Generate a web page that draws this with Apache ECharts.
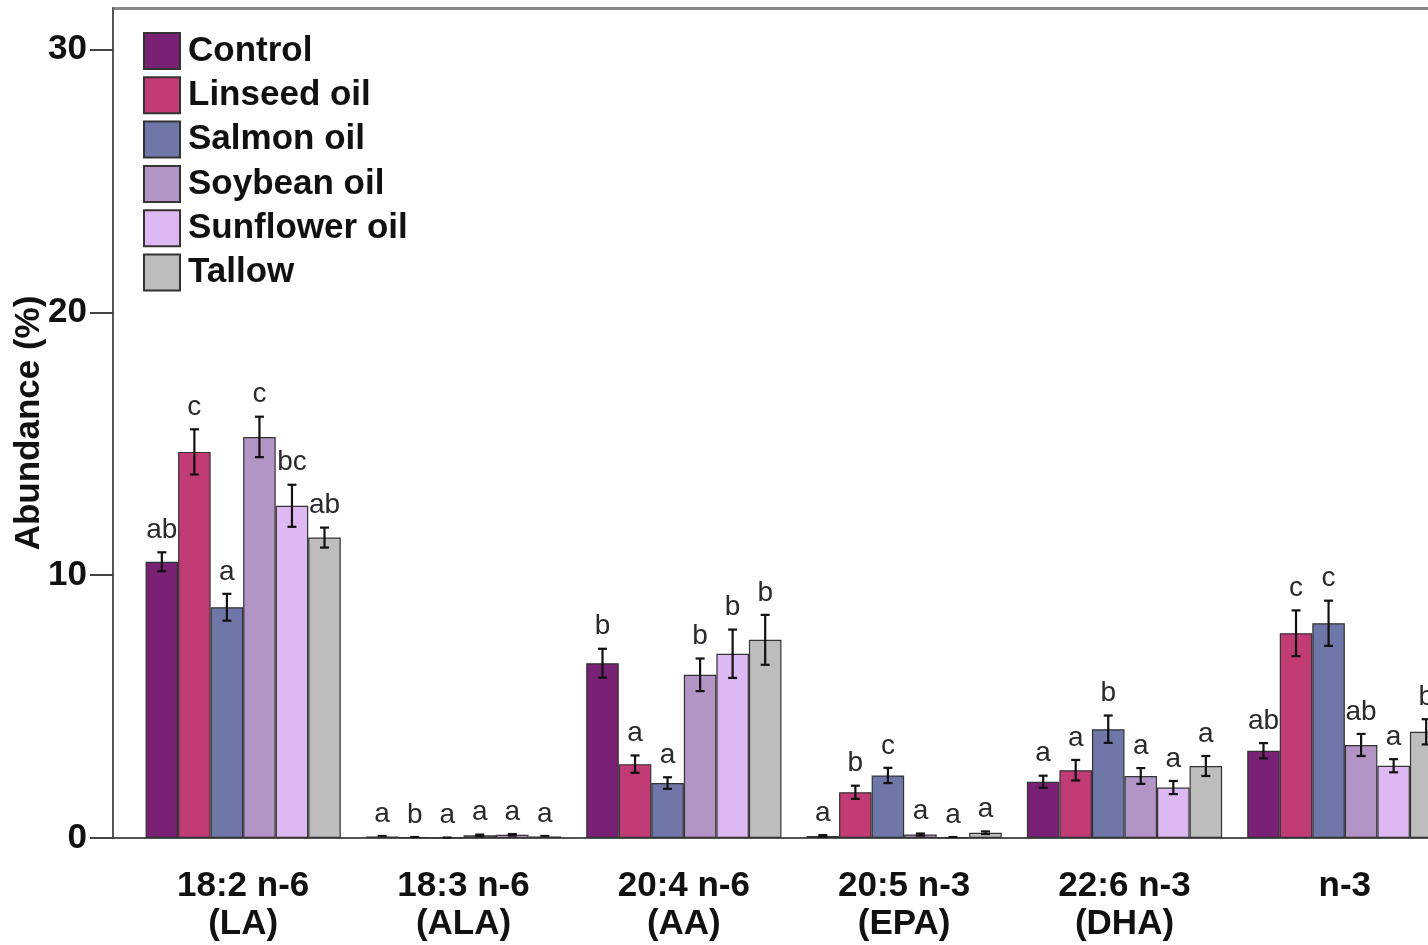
<!DOCTYPE html>
<html>
<head>
<meta charset="utf-8">
<title>Fatty acid abundance</title>
<script src="https://cdn.jsdelivr.net/npm/echarts@6/dist/echarts.min.js"></script>
<style>
  html, body { margin: 0; padding: 0; background: #ffffff; }
  #chart { width: 1428px; height: 945px; }
</style>
</head>
<body>
<div id="chart"></div>
<script>
// Fatty acid groups along the x axis
const categories = ['18:2 n-6\n(LA)', '18:3 n-6\n(ALA)', '20:4 n-6\n(AA)', '20:5 n-3\n(EPA)', '22:6 n-3\n(DHA)', 'n-3'];

// Diet treatments (one bar series each)
const treatments = ['Control', 'Linseed oil', 'Salmon oil', 'Soybean oil', 'Sunflower oil', 'Tallow'];

// Mean abundance (%) per treatment, in category order
const control   = [10.51, 0.06, 6.65, 0.08, 2.14, 3.32];
const linseed   = [14.69, 0.03, 2.81, 1.74, 2.58, 7.79];
const salmon    = [8.78, 0.01, 2.09, 2.38, 4.14, 8.17];
const soybean   = [15.26, 0.10, 6.21, 0.13, 2.36, 3.54];
const sunflower = [12.64, 0.12, 7.01, 0.03, 1.92, 2.75];
const tallow    = [11.43, 0.06, 7.54, 0.20, 2.74, 4.04];

// Standard error per treatment, in category order
const controlErr   = [0.36, 0.02, 0.55, 0.03, 0.23, 0.29];
const linseedErr   = [0.86, 0.01, 0.33, 0.25, 0.39, 0.87];
const salmonErr    = [0.51, 0.01, 0.22, 0.29, 0.52, 0.86];
const soybeanErr   = [0.77, 0.03, 0.62, 0.04, 0.30, 0.42];
const sunflowerErr = [0.80, 0.03, 0.92, 0.01, 0.25, 0.25];
const tallowErr    = [0.38, 0.02, 0.95, 0.05, 0.38, 0.48];

// Significance letters per treatment, in category order
const controlSig   = ['ab', 'a', 'b', 'a', 'a', 'ab'];
const linseedSig   = ['c', 'b', 'a', 'b', 'a', 'c'];
const salmonSig    = ['a', 'a', 'a', 'c', 'b', 'c'];
const soybeanSig   = ['c', 'a', 'b', 'a', 'a', 'ab'];
const sunflowerSig = ['bc', 'a', 'b', 'a', 'a', 'a'];
const tallowSig    = ['ab', 'a', 'b', 'a', 'a', 'b'];

// Y axis tick values
const yTicks = [0, 10, 20, 30];

const means = [control, linseed, salmon, soybean, sunflower, tallow];
const errs = [controlErr, linseedErr, salmonErr, soybeanErr, sunflowerErr, tallowErr];
const sigs = [controlSig, linseedSig, salmonSig, soybeanSig, sunflowerSig, tallowSig];
const colors = ['#792175', '#C13B74', '#6F76A8', '#B394C6', '#DDB8F2', '#BDBDBD'];

const FONT = '"Liberation Sans", Arial, sans-serif';
const GAP_FRAC = 0.114;          // share of each category band left empty
const GRID_LEFT = 133, GRID_TOP = 8, GRID_H = 830, GRID_W = 1322;
const AXIS_X = 113;              // y axis line position (offset from grid)

const chart = echarts.init(document.getElementById('chart'), null, { renderer: 'canvas' });

// Error bar + letter items: [categoryIndex, seriesIndex, mean, err, letter]
const errItems = [];
means.forEach((arr, s) => {
  arr.forEach((v, c) => errItems.push([c, s, v, errs[s][c], sigs[s][c]]));
});

function renderErr(params, api) {
  const c = api.value(0), s = api.value(1), v = api.value(2), e = api.value(3);
  const letter = errItems[params.dataIndex][4];
  const center = api.coord([c, 0]);
  const band = api.size([1, 0])[0];
  const bw = band * (1 - GAP_FRAC) / means.length;
  const x = center[0] + (s - (means.length - 1) / 2) * bw;
  const yTop = api.coord([c, v + e])[1];
  const yBot = api.coord([c, Math.max(v - e, 0)])[1];
  const cap = 4.5;
  const st = { stroke: '#111', lineWidth: 2.2 };
  const children = [];
  if (yBot - yTop > 1.5) {
    children.push(
      { type: 'line', shape: { x1: x, y1: yTop, x2: x, y2: yBot }, style: st },
      { type: 'line', shape: { x1: x - cap, y1: yTop, x2: x + cap, y2: yTop }, style: st },
      { type: 'line', shape: { x1: x - cap, y1: yBot, x2: x + cap, y2: yBot }, style: st }
    );
  } else {
    children.push({ type: 'line', shape: { x1: x - cap, y1: yTop, x2: x + cap, y2: yTop }, style: { stroke: '#111', lineWidth: 2 } });
  }
  children.push({
    type: 'text',
    style: {
      text: letter, x: x, y: yTop - 8,
      align: 'center', verticalAlign: 'bottom',
      font: '28px ' + FONT, fill: '#2a2a2a'
    }
  });
  return { type: 'group', children: children };
}

const barSeries = treatments.map((name, s) => ({
  name: name,
  type: 'bar',
  data: means[s],
  barGap: '0%',
  barCategoryGap: (GAP_FRAC * 100) + '%',
  itemStyle: { color: colors[s], borderColor: '#333', borderWidth: 1.2 },
  emphasis: { disabled: true },
  z: 2
}));

const option = {
  backgroundColor: '#ffffff',
  animation: false,
  textStyle: { fontFamily: FONT },
  grid: {
    left: GRID_LEFT, top: GRID_TOP, width: GRID_W, height: GRID_H,
    containLabel: false, outerBoundsMode: 'none'
  },
  legend: {
    orient: 'vertical',
    left: 143,
    top: 32,
    padding: 0,
    itemWidth: 36,
    itemHeight: 36,
    itemGap: 6.3,
    icon: 'rect',
    data: treatments,
    selectedMode: false,
    textStyle: {
      fontFamily: FONT, fontSize: 35, fontWeight: 'bold', color: '#111',
      lineHeight: 36, padding: [0, 0, 0, 3]
    }
  },
  xAxis: {
    type: 'category',
    data: categories,
    axisLine: { lineStyle: { color: '#555', width: 2 } },
    axisTick: { alignWithLabel: true, length: 21, lineStyle: { color: '#444', width: 2 } },
    axisLabel: {
      fontFamily: FONT, fontSize: 35, fontWeight: 'bold', color: '#111',
      lineHeight: 38, margin: 29, interval: 0
    },
    splitLine: { show: false }
  },
  yAxis: {
    type: 'value',
    min: 0,
    max: 31.58,
    offset: GRID_LEFT - AXIS_X,
    name: 'Abundance (%)',
    nameLocation: 'middle',
    nameGap: 66,
    nameRotate: 90,
    nameMoveOverlap: false,
    nameTextStyle: { fontFamily: FONT, fontSize: 35, fontWeight: 'bold', color: '#111' },
    axisLine: { show: true, lineStyle: { color: '#555', width: 2 } },
    axisTick: { show: true, length: 23, customValues: yTicks, lineStyle: { color: '#444', width: 2 } },
    axisLabel: {
      customValues: yTicks,
      fontFamily: FONT, fontSize: 35, fontWeight: 'bold', color: '#111', margin: 26
    },
    splitLine: { show: false }
  },
  series: barSeries.concat([{
    type: 'custom',
    name: 'errors',
    renderItem: renderErr,
    data: errItems,
    encode: { x: 0, y: 2 },
    z: 5,
    silent: true
  }])
};

chart.setOption(option);

// Frame pieces: top border of the plot box and the stretch of the x axis
// between the offset y axis and the start of the category band.
const zeroY = chart.convertToPixel({ yAxisIndex: 0 }, 0);
chart.setOption({
  graphic: [
    { type: 'line', shape: { x1: AXIS_X, y1: GRID_TOP + 0.5, x2: 1428, y2: GRID_TOP + 0.5 }, style: { stroke: '#888', lineWidth: 3 }, silent: true },
    { type: 'line', shape: { x1: AXIS_X, y1: zeroY, x2: GRID_LEFT + 1, y2: zeroY }, style: { stroke: '#555', lineWidth: 2 }, silent: true }
  ]
});
</script>
</body>
</html>
